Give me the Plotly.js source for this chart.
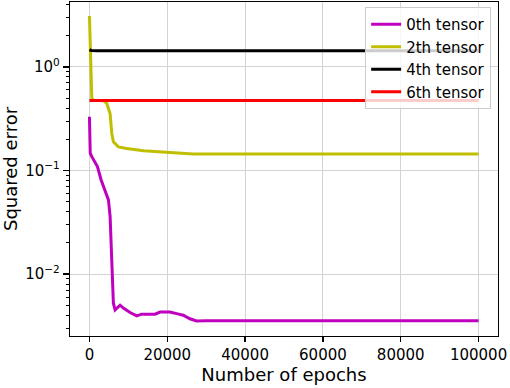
<!DOCTYPE html>
<html><head><meta charset="utf-8">
<script src="https://cdn.plot.ly/plotly-3.0.1.min.js"></script>
<style>html,body{margin:0;padding:0;background:#fff}#chart{width:510px;height:388px}</style>
</head><body><div id="chart"></div>
<script>
const seriesNames = ["0th tensor", "2th tensor", "4th tensor", "6th tensor"];
const seriesColors = ["#bf00bf", "#bfbf00", "#000000", "#ff0000"];

const epochs0 = [0, 200, 600, 1460, 2050, 3000, 4030, 4880, 5310, 5560, 5820, 6150, 6590, 7180, 7870, 8720, 10430, 12150, 13430, 15130, 16850, 18130, 20690, 22400, 24100, 25820, 27530, 30000, 100000];
const err0 = [0.33, 0.147, 0.136, 0.121, 0.109, 0.081, 0.0647, 0.052, 0.0358, 0.0184, 0.00877, 0.00523, 0.00451, 0.00469, 0.0050, 0.00469, 0.00425, 0.00394, 0.0041, 0.0041, 0.0041, 0.0043, 0.0043, 0.00415, 0.004, 0.0037, 0.00353, 0.00354, 0.00354];

const epochs2 = [0, 200, 600, 1000, 3600, 4450, 5300, 5740, 6150, 7440, 9580, 13850, 18130, 22400, 26670, 100000];
const err2 = [3.1, 1.4, 0.5, 0.477, 0.472, 0.444, 0.355, 0.228, 0.189, 0.169, 0.163, 0.155, 0.151, 0.146, 0.144, 0.144];

const epochs4 = [0, 500, 2000, 100000];
const err4 = [1.47, 1.44, 1.43, 1.43];

const epochs6 = [0, 100000];
const err6 = [0.475, 0.475];

const yTickLabels = {"0.01": "10<sup>−2</sup>", "0.1": "10<sup>−1</sup>", "1": "10<sup>0</sup>"};
const xTickVals = [0, 20000, 40000, 60000, 80000, 100000];

const xs = [epochs0, epochs2, epochs4, epochs6];
const ys = [err0, err2, err4, err6];

const traces = xs.map((x, i) => ({
  x: x, y: ys[i], type: "scatter", mode: "lines", name: seriesNames[i],
  line: {color: seriesColors[i], width: 3}
}));

const yRange = [-2.598, 0.627];
const fam = "DejaVu Sans";
const layout = {
  width: 510, height: 388,
  margin: {l: 70, r: 12, t: 2, b: 52},
  paper_bgcolor: "#fff", plot_bgcolor: "#fff",
  font: {family: fam, size: 15, color: "#000"},
  showlegend: true,
  legend: {x: 0.984, y: 0.985, xanchor: "right", yanchor: "top",
    bgcolor: "rgba(255,255,255,0.8)", bordercolor: "#cccccc", borderwidth: 1,
    font: {family: fam, size: 15, color: "#000"}},
  xaxis: {
    range: [-5000, 105000], tickvals: xTickVals, ticktext: xTickVals.map(String),
    showgrid: true, gridcolor: "#d3d3d3", gridwidth: 1, zeroline: false,
    showline: true, linecolor: "#000", linewidth: 1.2, mirror: true,
    ticks: "outside", ticklen: 5, tickwidth: 1.2, tickcolor: "#000",
    tickfont: {family: fam, size: 15, color: "#000"},
    title: {text: "Number of epochs", font: {family: fam, size: 18, color: "#000"}, standoff: 4}
  },
  yaxis: {
    type: "log", range: yRange, tickmode: "linear", tick0: 0, dtick: 1,
    labelalias: yTickLabels,
    showgrid: true, gridcolor: "#d3d3d3", gridwidth: 1, zeroline: false,
    showline: true, linecolor: "#000", linewidth: 1.2, mirror: true,
    ticks: "outside", ticklen: 6, tickwidth: 1.2, tickcolor: "#000",
    minor: {dtick: "D1", ticks: "outside", ticklen: 3, tickwidth: 1, tickcolor: "#000", showgrid: false},
    tickfont: {family: fam, size: 15, color: "#000"},
    title: {text: "Squared error", font: {family: fam, size: 18, color: "#000"}, standoff: 4}
  }
};
Plotly.newPlot("chart", traces, layout, {displayModeBar: false, staticPlot: true});
</script></body></html>
